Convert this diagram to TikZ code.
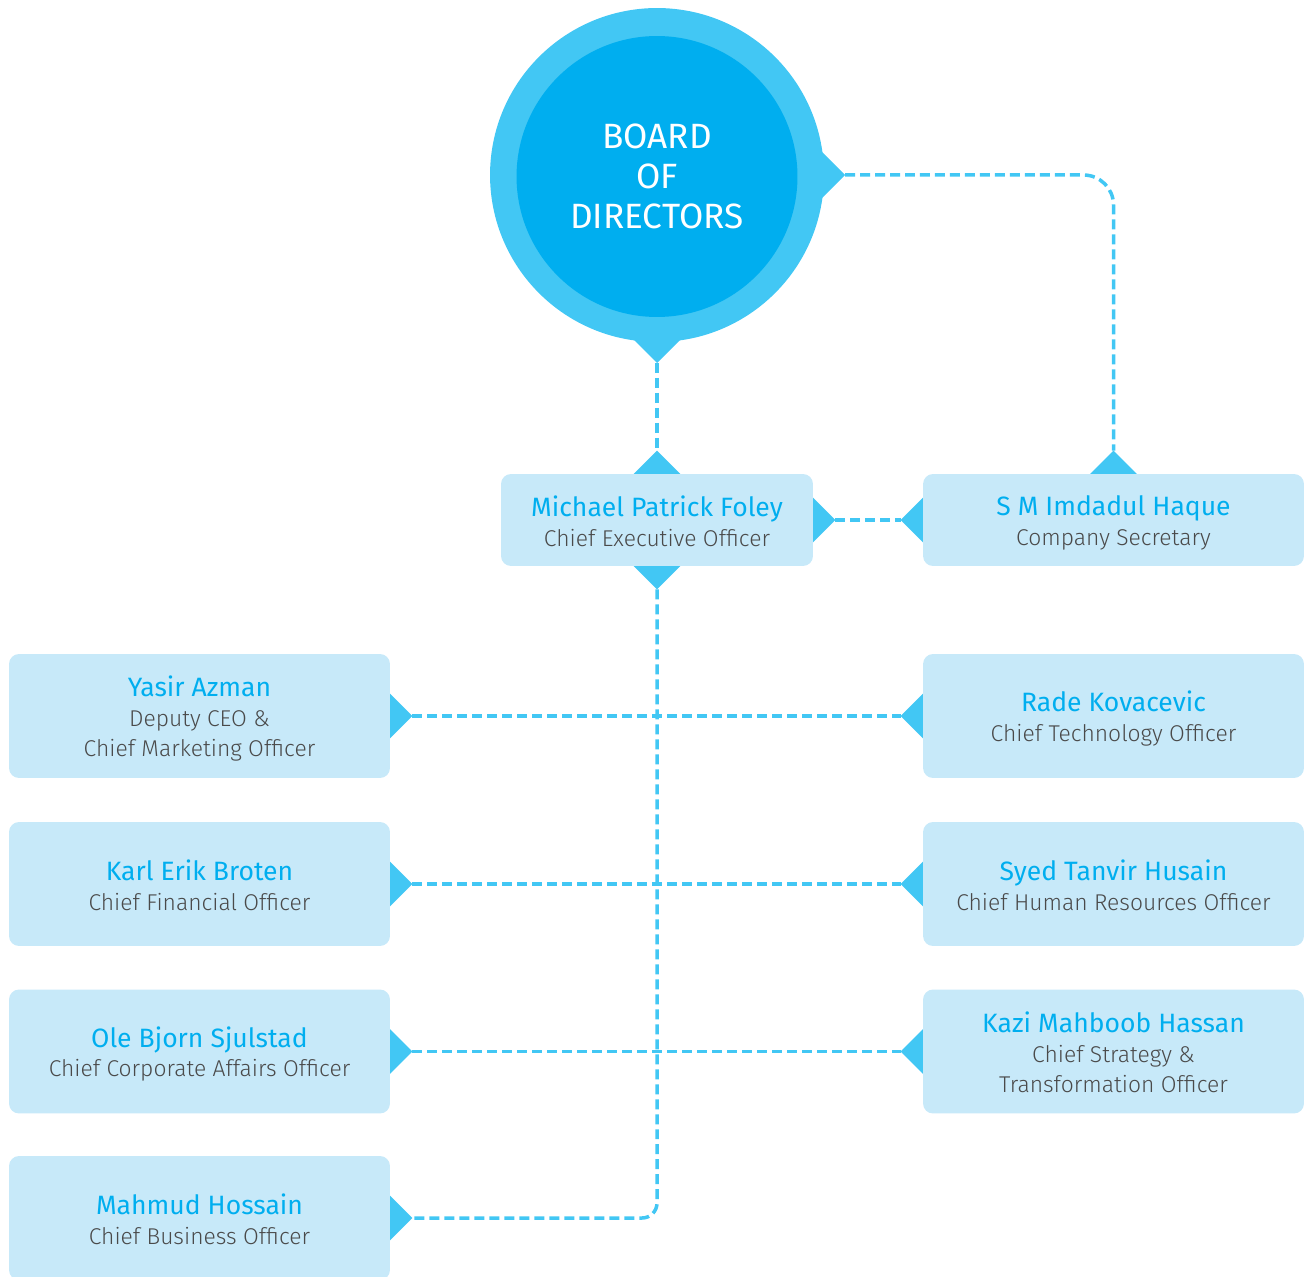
\documentclass[tikz,border=0pt]{standalone}
\usepackage{fontspec}
\setmainfont{Fira Sans}
\newfontfamily\lightfont{Fira Sans Light}
\usetikzlibrary{calc,backgrounds}
\definecolor{outerc}{HTML}{42C7F4}
\definecolor{innerc}{HTML}{00AEEF}
\definecolor{boxc}{HTML}{C7E9F9}
\definecolor{namec}{HTML}{00AEEF}
\definecolor{subc}{HTML}{4A4A4A}
\newcommand\namestrut{\rule[-2pt]{0pt}{16.6pt}}
\newcommand\titlestrut{\rule[-2pt]{0pt}{15pt}}
\newcommand\pname[1]{{\fontsize{15.1pt}{17pt}\selectfont\color{namec}\namestrut#1}}
\newcommand\ptitle[1]{{\lightfont\fontsize{13pt}{17pt}\selectfont\color{subc}\titlestrut#1}}
\tikzset{
  orgbox/.style={fill=boxc, rounded corners=0.2cm, inner sep=0pt, align=center,
    font=\fontsize{13pt}{17pt}\selectfont},
  bigbox/.style={orgbox, minimum width=7.62cm, minimum height=2.48cm},
  smallbox/.style={orgbox, minimum height=1.84cm},
  ptr/.style={fill=outerc},
  conn/.style={draw=outerc, line width=0.07cm, dash pattern=on 0.2cm off 0.1cm},
}
\newcommand\ptrE[1]{\fill[ptr] ($(#1.east)+(-6,-28)$) -- ($(#1.east)+(22,0)$) -- ($(#1.east)+(-6,28)$) -- cycle;
  \coordinate (#1-e) at ($(#1.east)+(22,0)$);}
\newcommand\ptrW[1]{\fill[ptr] ($(#1.west)+(6,-28)$) -- ($(#1.west)+(-22,0)$) -- ($(#1.west)+(6,28)$) -- cycle;
  \coordinate (#1-w) at ($(#1.west)+(-22,0)$);}
\newcommand\ptrN[1]{\fill[ptr] ($(#1.north)+(-29,6)$) -- ($(#1.north)+(0,-23)$) -- ($(#1.north)+(29,6)$) -- cycle;
  \coordinate (#1-n) at ($(#1.north)+(0,-23)$);}
\newcommand\ptrS[1]{\fill[ptr] ($(#1.south)+(-29,-6)$) -- ($(#1.south)+(0,23)$) -- ($(#1.south)+(29,-6)$) -- cycle;
  \coordinate (#1-s) at ($(#1.south)+(0,23)$);}
\begin{document}
\begin{tikzpicture}[x=0.02cm,y=-0.02cm]
\useasboundingbox (0,0) rectangle (1308,1277);
\clip (0,0) rectangle (1308,1277);

% Board circle
\node[circle, fill=outerc, minimum size=6.68cm, inner sep=0pt] (bodo) at (657,175) {};
\fill[ptr] (624,330) -- (657,363) -- (690,330) -- cycle;
\fill[ptr] (812,142) -- (845,175) -- (812,208) -- cycle;
\coordinate (bod-s) at (657,363);
\coordinate (bod-e) at (845,175);
\node[circle, fill=innerc, minimum size=5.62cm, inner sep=0pt, text=white, align=center,
  font=\fontsize{20pt}{22.7pt}\selectfont] (board) at (657,176.5) {BOARD\\OF\\DIRECTORS};

% Boxes
\node[smallbox, minimum width=6.24cm] (ceo) at (657,520)
  {\pname{Michael Patrick Foley}\\\ptitle{Chief Executive Officer}};
\node[smallbox, minimum width=7.62cm] (sec) at (1113.5,520)
  {\pname{S M Imdadul Haque}\\\ptitle{Company Secretary}};

\node[bigbox] (yasir) at (199.5,716)
  {\pname{Yasir Azman}\\\ptitle{Deputy CEO \&}\\\ptitle{Chief Marketing Officer}};
\node[bigbox] (karl) at (199.5,884)
  {\pname{Karl Erik Broten}\\\ptitle{Chief Financial Officer}};
\node[bigbox] (ole) at (199.5,1051.5)
  {\pname{Ole Bjorn Sjulstad}\\\ptitle{Chief Corporate Affairs Officer}};
\node[bigbox] (mahmud) at (199.5,1218)
  {\pname{Mahmud Hossain}\\\ptitle{Chief Business Officer}};

\node[bigbox] (rade) at (1113.5,716)
  {\pname{Rade Kovacevic}\\\ptitle{Chief Technology Officer}};
\node[bigbox] (syed) at (1113.5,884)
  {\pname{Syed Tanvir Husain}\\\ptitle{Chief Human Resources Officer}};
\node[bigbox] (kazi) at (1113.5,1051.5)
  {\pname{Kazi Mahboob Hassan}\\\ptitle{Chief Strategy \&}\\\ptitle{Transformation Officer}};

\begin{scope}[on background layer]
\ptrN{ceo}\ptrS{ceo}\ptrE{ceo}
\ptrN{sec}\ptrW{sec}
\ptrE{yasir}\ptrE{karl}\ptrE{ole}\ptrE{mahmud}
\ptrW{rade}\ptrW{syed}\ptrW{kazi}

\draw[conn] (bod-s) -- (ceo-n);
\draw[conn, rounded corners=0.6cm] (bod-e) -- (bod-e -| sec-n) -- (sec-n);
\draw[conn] (ceo-e) -- (sec-w);
\draw[conn, rounded corners=0.3cm] (ceo-s) -- (ceo-s |- mahmud-e) -- (mahmud-e);
\draw[conn] (yasir-e) -- (rade-w);
\draw[conn] (karl-e) -- (syed-w);
\draw[conn] (ole-e) -- (kazi-w);
\end{scope}
\end{tikzpicture}
\end{document}
